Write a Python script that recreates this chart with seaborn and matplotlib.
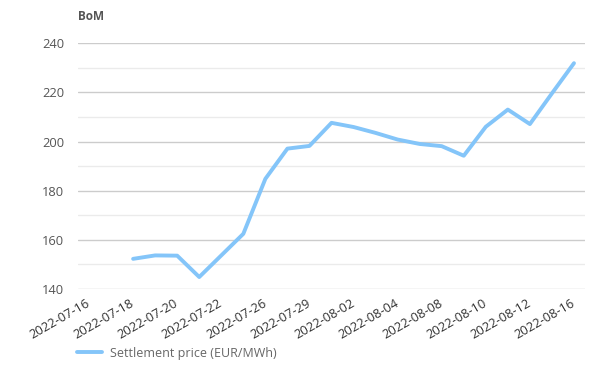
import numpy as np
import pandas as pd
import matplotlib
matplotlib.use("Agg")
import matplotlib.pyplot as plt
import seaborn as sns

# trading dates on the category axis (only every other one is labelled)
dates = [
    "2022-07-16", "2022-07-17", "2022-07-18", "2022-07-19", "2022-07-20",
    "2022-07-21", "2022-07-22", "2022-07-25", "2022-07-26", "2022-07-28",
    "2022-07-29", "2022-08-01", "2022-08-02", "2022-08-03", "2022-08-04",
    "2022-08-05", "2022-08-08", "2022-08-09", "2022-08-10", "2022-08-11",
    "2022-08-12", "2022-08-15", "2022-08-16",
]
settlement = [
    np.nan, np.nan, 152.2, 153.6, 153.5, 144.8, 153.6, 162.4, 184.8, 197.1,
    198.2, 207.6, 205.9, 203.5, 200.8, 199.0, 198.1, 194.2, 206.0, 213.0,
    207.1, 219.6, 231.9,
]
series_name = "Settlement price (EUR/MWh)"
y_label = "BoM"

df = pd.DataFrame({"pos": np.arange(len(dates)), "date": dates, "value": settlement})

sns.set_style("white")
plt.rcParams["font.family"] = ["Open Sans", "DejaVu Sans"]

W, H = 614, 390
fig = plt.figure(figsize=(W / 100, H / 100), dpi=100)
ax = fig.add_axes([78 / W, 1 - 288.8 / H, (585 - 78) / W, (288.8 - 43.3) / H])

line_color = "#84c5f9"
sns.lineplot(data=df.dropna(), x="pos", y="value", ax=ax, color=line_color,
             linewidth=2.8, label=series_name, legend=False)

ax.set_xlim(-0.5, len(dates) - 0.5)
ax.set_ylim(140, 240)
ax.set_yticks(np.arange(140, 241, 20))
ax.set_yticks(np.arange(150, 240, 20), minor=True)
ax.grid(True, which="major", axis="y", color="#cccccc", linewidth=1)
ax.grid(True, which="minor", axis="y", color="#ebebeb", linewidth=1)
ax.set_axisbelow(True)
for s in ax.spines.values():
    s.set_visible(False)

tick_pos = df["pos"].iloc[::2]
ax.set_xticks(tick_pos)
ax.set_xticklabels(df["date"].iloc[::2], rotation=30, ha="right",
                   va="center", rotation_mode="anchor")
ax.tick_params(axis="x", length=0, pad=10, labelsize=9.3, labelcolor="#333333")
ax.tick_params(axis="y", which="both", length=0, pad=10, labelsize=9.3,
               labelcolor="#555555")
ax.set_xlabel("")
ax.set_ylabel("")

fig.text(78 / W, 1 - 16 / H, y_label, fontsize=8.5, fontweight="bold",
         color="#555555", va="center", ha="left")

handles, labels = ax.get_legend_handles_labels()
fig.legend(handles, labels, loc="center left",
           bbox_to_anchor=(77 / W, 1 - 353 / H), frameon=False,
           fontsize=9, labelcolor="#666666", handlelength=2.0,
           handletextpad=0.6, borderpad=0, borderaxespad=0)

fig.savefig("out.png", dpi=100, facecolor="white")
